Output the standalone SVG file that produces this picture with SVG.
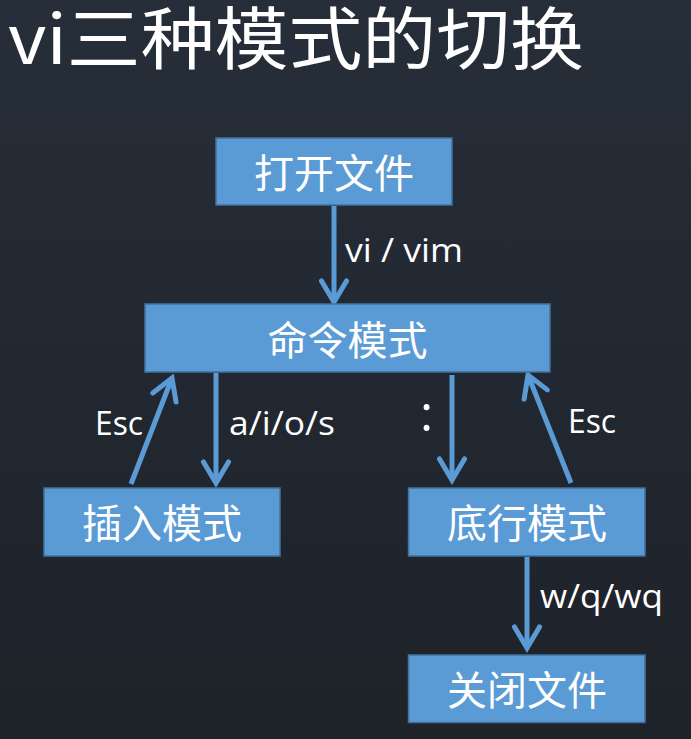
<svg xmlns="http://www.w3.org/2000/svg" width="691" height="739" viewBox="0 0 691 739">
<defs>
<linearGradient id="bg" x1="0" y1="0" x2="0" y2="1">
<stop offset="0" stop-color="#262e39"/>
<stop offset="1" stop-color="#1e2229"/>
</linearGradient>
<marker id="arr" markerUnits="userSpaceOnUse" markerWidth="60" markerHeight="60" viewBox="-30 -30 60 60" refX="0" refY="0" orient="auto" overflow="visible">
<path d="M-21,-12.5 L0,0 L-21,12.5" fill="none" stroke="#5b9bd5" stroke-width="5" stroke-linecap="round" stroke-linejoin="miter"/>
</marker>
<style>
.box{fill:#5b9bd5;stroke:#41719c;stroke-width:1.5}
.nt{fill:#ffffff;font-family:"Noto Sans CJK SC","Noto Sans",sans-serif;font-size:40px;text-anchor:middle;dominant-baseline:central}
.lbl{fill:#ffffff;font-family:"Open Sans","Noto Sans CJK SC",sans-serif;font-size:33px}
.ln{stroke:#5b9bd5;stroke-width:5;fill:none;marker-end:url(#arr)}
</style>
</defs>
<rect x="0" y="0" width="691" height="739" fill="url(#bg)"/>
<text x="8" y="64" fill="#ffffff" font-family="Noto Sans CJK SC, Open Sans, sans-serif" font-size="68" textLength="576" lengthAdjust="spacingAndGlyphs">vi三种模式的切换</text>

<g id="connectors">
<line class="ln" x1="334" y1="206" x2="334" y2="302"/>
<line class="ln" x1="131" y1="484" x2="172" y2="378"/>
<line class="ln" x1="216" y1="373" x2="216" y2="483"/>
<line class="ln" x1="452" y1="375" x2="452" y2="480"/>
<line class="ln" x1="571" y1="483" x2="528" y2="375"/>
<line class="ln" x1="527" y1="557" x2="527" y2="648"/>
<text class="lbl" x="345" y="262" textLength="118" lengthAdjust="spacingAndGlyphs">vi / vim</text>
<text class="lbl" x="95" y="435" textLength="48" lengthAdjust="spacingAndGlyphs">Esc</text>
<text class="lbl" x="229" y="435" textLength="106" lengthAdjust="spacingAndGlyphs">a/i/o/s</text>
<text x="420" y="431" fill="#ffffff" font-family="Open Sans, sans-serif" font-size="50">:</text>
<text class="lbl" x="568" y="433" textLength="48" lengthAdjust="spacingAndGlyphs">Esc</text>
<text class="lbl" x="540" y="608" textLength="123" lengthAdjust="spacingAndGlyphs">w/q/wq</text>
</g>

<g id="open-file">
<rect class="box" x="216" y="138" width="236" height="67"/>
<text class="nt" x="334" y="171">打开文件</text>
</g>
<g id="command-mode">
<rect class="box" x="145" y="304" width="405" height="68"/>
<text class="nt" x="347.5" y="338">命令模式</text>
</g>
<g id="insert-mode">
<rect class="box" x="44" y="488" width="236" height="68"/>
<text class="nt" x="162" y="521">插入模式</text>
</g>
<g id="last-line-mode">
<rect class="box" x="408.5" y="488" width="236.5" height="68"/>
<text class="nt" x="527" y="521">底行模式</text>
</g>
<g id="close-file">
<rect class="box" x="408.5" y="655" width="236.5" height="67.5"/>
<text class="nt" x="527" y="688">关闭文件</text>
</g>
</svg>
